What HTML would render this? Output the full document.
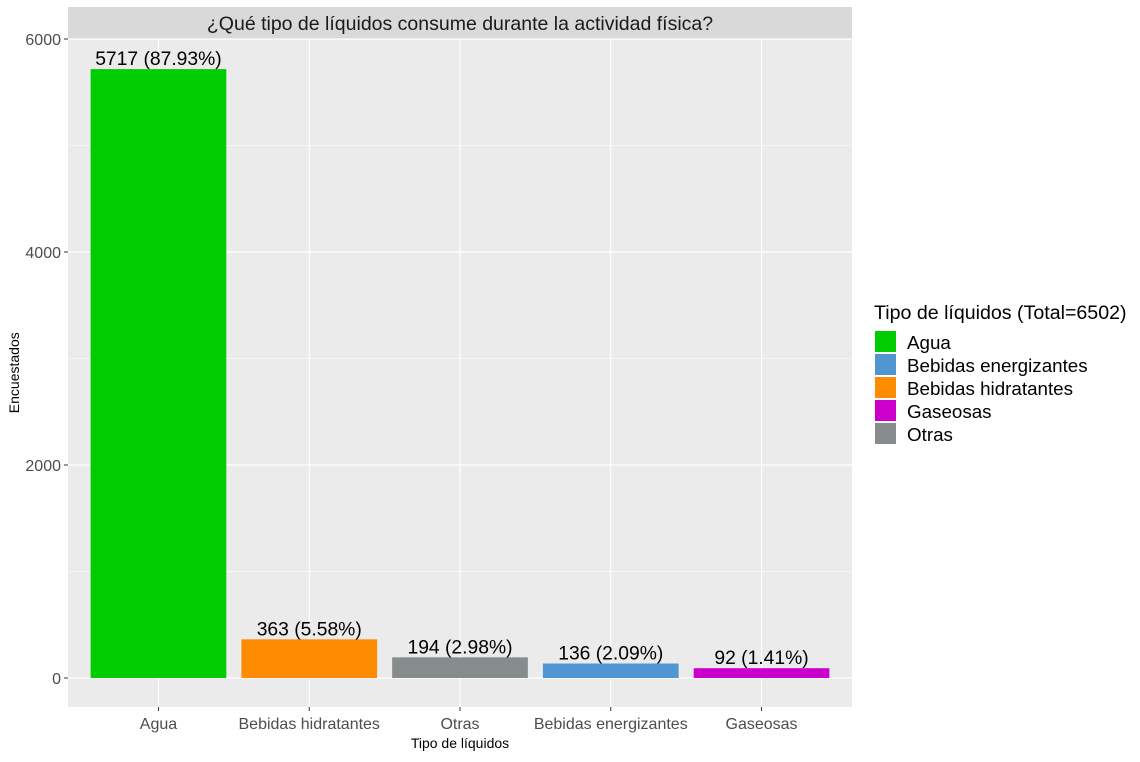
<!DOCTYPE html>
<html><head><meta charset="utf-8"><style>
body{margin:0;background:#fff;font-family:"Liberation Sans",Arial,sans-serif}
</style></head><body>
<svg id="chart" width="1140" height="757" xmlns="http://www.w3.org/2000/svg" font-family="Liberation Sans, Arial, sans-serif"></svg>
<script>
const categories=["Agua","Bebidas hidratantes","Otras","Bebidas energizantes","Gaseosas"];
const values=[5717,363,194,136,92];
const labels=["5717 (87.93%)","363 (5.58%)","194 (2.98%)","136 (2.09%)","92 (1.41%)"];
const colors=["#00CC00","#FF8C00","#868B8B","#5096D2","#CC00CC"];
const yTicks=[0,2000,4000,6000];
const legendNames=["Agua","Bebidas energizantes","Bebidas hidratantes","Gaseosas","Otras"];
const legendColors=["#00CC00","#5096D2","#FF8C00","#CC00CC","#868B8B"];
const NS="http://www.w3.org/2000/svg";
const svg=document.getElementById('chart');
function mk(t,a,p){const e=document.createElementNS(NS,t);for(const k in a)e.setAttribute(k,a[k]);(p||svg).appendChild(e);return e;}
const PL=68,PR=852,PT=38.5,PB=707;
const y=v=>678-v*(678-39)/6000;
const step=(PR-PL)/5.2;
const x=i=>PL+(0.6+i)*step;
const bw=0.9*step;
let e=mk('rect',{x:PL,y:7,width:PR-PL,height:PT-7,fill:'#D9D9D9'});


e=mk('text',{x:(PL+PR)/2,y:30,'text-anchor':'middle','font-size':19.5,fill:'#1A1A1A'});e.textContent='¿Qué tipo de líquidos consume durante la actividad física?';


e=mk('rect',{x:PL,y:PT,width:PR-PL,height:PB-PT,fill:'#EBEBEB'});


for(let i=0;i<yTicks.length-1;i++){const m=(yTicks[i]+yTicks[i+1])/2;mk('line',{x1:PL,x2:PR,y1:y(m),y2:y(m),stroke:'#fff','stroke-width':0.6});}
yTicks.forEach(t=>{mk('line',{x1:PL,x2:PR,y1:y(t),y2:y(t),stroke:'#fff','stroke-width':1.2});
mk('line',{x1:PL-4,x2:PL,y1:y(t),y2:y(t),stroke:'#333','stroke-width':1});
const tx=mk('text',{x:PL-7,y:y(t)+6,'text-anchor':'end','font-size':16,fill:'#4D4D4D'});tx.textContent=t;

});
categories.forEach((c,i)=>{mk('line',{x1:x(i),x2:x(i),y1:PT,y2:PB,stroke:'#fff','stroke-width':1.2});
mk('line',{x1:x(i),x2:x(i),y1:PB,y2:PB+4,stroke:'#333','stroke-width':1});
const tx=mk('text',{x:x(i),y:PB+22,'text-anchor':'middle','font-size':16,fill:'#4D4D4D'});tx.textContent=c;

});
values.forEach((v,i)=>{const r=mk('rect',{x:x(i)-bw/2,y:y(v),width:bw,height:y(0)-y(v),fill:colors[i]});


const t=mk('text',{x:x(i),y:y(v)-4,'text-anchor':'middle','font-size':19.3,fill:'#000'});t.textContent=labels[i];

});
e=mk('text',{x:(PL+PR)/2,y:748,'text-anchor':'middle','font-size':14,fill:'#000'});e.textContent='Tipo de líquidos';


e=mk('text',{x:0,y:0,'text-anchor':'middle','font-size':14,fill:'#000',transform:'translate(19,'+((PT+PB)/2)+') rotate(-90)'});e.textContent='Encuestados';


e=mk('text',{x:874,y:319,'font-size':19.6,fill:'#000'});e.textContent='Tipo de líquidos (Total=6502)';


legendNames.forEach((n,i)=>{const g=mk('g',{});


mk('rect',{x:875,y:331+i*23,width:21,height:21,fill:legendColors[i]},g);
const t=mk('text',{x:907,y:349+i*23,'font-size':18.8,fill:'#000'},g);t.textContent=n;});
</script>
</body></html>
